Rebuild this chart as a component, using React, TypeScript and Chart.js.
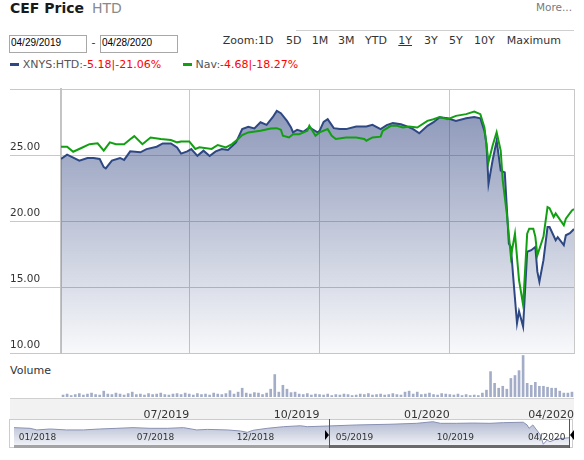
import React, { useEffect, useRef } from 'react';
import { Chart, registerables } from 'chart.js';

Chart.register(...registerables);

const FONT = "'DejaVu Sans', Verdana, sans-serif";

// Main chart: trading-day index (0 = 04/29/2019, 252 = 04/28/2020)
const priceDays = [0, 3, 5, 9, 13, 16, 19, 21, 22, 25, 29, 31, 34, 39, 42, 47, 50, 54, 57, 59, 62, 64, 67, 70, 73, 76, 79, 82, 86, 89, 92, 95, 98, 101, 104, 106, 108, 111, 113, 114, 116, 119, 122, 126, 127, 129, 131, 134, 137, 140, 145, 150, 153, 157, 160, 163, 167, 170, 173, 176, 180, 183, 186, 190, 194, 199, 203, 206, 208, 209, 210, 212, 214, 216, 218, 220, 221, 222, 224, 225, 227, 229, 231, 233, 234, 235, 237, 239, 240, 243, 244, 247, 248, 250, 252];
const priceClose = [24.71, 25.04, 24.89, 24.59, 24.79, 24.79, 24.71, 24.1, 24.0, 24.59, 24.79, 24.64, 25.29, 25.22, 25.46, 25.64, 25.89, 25.89, 25.59, 25.12, 25.29, 25.46, 24.95, 25.34, 24.94, 25.29, 25.46, 25.39, 25.96, 26.97, 27.15, 27.02, 27.49, 27.29, 27.87, 28.35, 28.17, 27.59, 27.09, 26.72, 26.92, 26.77, 27.09, 26.72, 26.84, 27.52, 27.72, 27.04, 26.97, 26.97, 27.17, 27.17, 27.29, 26.97, 27.27, 27.42, 27.33, 27.17, 26.97, 26.65, 27.22, 27.49, 27.87, 27.79, 27.59, 27.79, 27.89, 27.79, 26.84, 25.84, 22.83, 24.6, 26.1, 23.83, 23.7, 18.32, 18.07, 16.06, 12.3, 13.2, 12.05, 17.7, 17.82, 18.07, 16.2, 15.44, 17.07, 19.57, 19.57, 18.57, 18.8, 18.2, 18.95, 19.1, 19.42];

const navDays = [0, 3, 6, 10, 14, 18, 21, 24, 27, 31, 34, 36, 40, 44, 49, 54, 57, 59, 63, 66, 68, 74, 77, 81, 84, 87, 89, 92, 98, 103, 106, 108, 109, 112, 114, 117, 121, 122, 125, 127, 131, 133, 135, 140, 145, 149, 150, 153, 157, 158, 162, 165, 168, 171, 175, 180, 183, 186, 190, 194, 199, 203, 206, 208, 210, 212, 214, 216, 217, 219, 221, 223, 225, 227, 229, 230, 232, 233, 234, 237, 239, 240, 242, 243, 247, 248, 251, 252];
const navValue = [25.64, 25.64, 25.26, 25.54, 25.83, 25.9, 25.34, 25.97, 25.83, 25.83, 26.2, 26.44, 25.83, 26.34, 26.22, 26.14, 25.97, 26.04, 26.04, 25.47, 25.59, 25.47, 25.77, 25.59, 25.84, 26.22, 26.52, 26.72, 26.84, 27.02, 27.04, 26.92, 26.47, 26.34, 26.59, 26.59, 26.84, 27.22, 26.47, 26.72, 26.97, 26.47, 26.22, 26.34, 26.34, 26.22, 26.09, 26.34, 26.4, 26.84, 27.22, 27.22, 27.09, 27.17, 27.09, 27.59, 27.72, 27.89, 27.72, 27.97, 28.1, 28.3, 28.1, 27.1, 24.47, 25.71, 26.73, 25.34, 23.08, 20.58, 17.34, 19.07, 15.56, 13.68, 19.07, 19.45, 19.45, 18.85, 17.44, 18.85, 21.08, 21.0, 20.33, 20.6, 19.7, 20.2, 20.83, 20.93];

// Volume (thousands of shares), one bar per two trading days
const volume = [80, 120, 60, 100, 140, 80, 120, 160, 100, 80, 240, 120, 100, 160, 120, 80, 140, 200, 100, 120, 80, 140, 100, 120, 160, 100, 80, 120, 140, 100, 160, 120, 80, 140, 100, 120, 80, 160, 120, 100, 140, 260, 120, 200, 360, 160, 120, 180, 160, 100, 160, 320, 920, 200, 480, 320, 180, 200, 120, 100, 140, 80, 120, 100, 80, 120, 60, 100, 80, 120, 100, 60, 80, 120, 100, 140, 80, 100, 120, 80, 100, 140, 100, 80, 200, 240, 120, 200, 100, 120, 160, 100, 80, 140, 120, 100, 80, 120, 60, 100, 60, 80, 60, 160, 280, 1040, 560, 360, 440, 320, 760, 880, 1080, 1700, 560, 480, 600, 440, 440, 400, 360, 360, 240, 160, 160, 200];

const yTicks = [10, 15, 20, 25, 30];
const yTickLabels = ['10.00', '15.00', '20.00', '25.00', ''];
const xTickDays = [63, 127, 191, 252];
const xTickLabels = ['07/2019', '10/2019', '01/2020', '04/2020'];

// Navigator (days relative to 04/29/2019)
const navigatorDays = [-331, -314, -307, -293, -276, -258, -241, -223, -206, -188, -170, -153, -139, -128, -107, -93, -86, -80, -65, -48, -30, -23, -2, 29, 64, 92, 109, 117, 134, 151, 169, 183, 204, 208, 210, 214, 218, 222, 225, 229, 232, 239, 246, 252];
const navigatorClose = [23.6, 23.1, 21.9, 22.6, 21.9, 21.9, 22.6, 23.1, 23.6, 23.1, 23.1, 23.6, 21.9, 22.3, 21.9, 21.1, 20.1, 21.6, 23.1, 24.3, 25.0, 24.3, 24.8, 25.6, 26.1, 26.8, 28.0, 26.8, 26.8, 27.0, 26.8, 27.3, 27.6, 25.6, 23.1, 25.6, 21.9, 18.1, 11.3, 14.4, 13.2, 15.2, 15.7, 16.1];
const navTickDays = [-326, -202, -97, 7, 113, 209];
const navTickLabels = ['01/2018', '07/2018', '12/2018', '05/2019', '10/2019', '04/2020'];

const BLUE = '#2e4883';
const GREEN = '#12a012';
const GRID = '#c8c8c8';

function grad(c: any, top: string, bottom: string) {
  const chart = c.chart;
  const area = chart.chartArea;
  if (!area) return top;
  const g = chart.ctx.createLinearGradient(0, area.top, 0, area.bottom);
  g.addColorStop(0, top);
  g.addColorStop(1, bottom);
  return g;
}

export default function App() {
  const priceRef = useRef<HTMLCanvasElement>(null);
  const volRef = useRef<HTMLCanvasElement>(null);
  const navRef = useRef<HTMLCanvasElement>(null);

  useEffect(() => {
    const charts: Chart[] = [];
    if (priceRef.current) {
      charts.push(new Chart(priceRef.current, {
        type: 'line',
        data: {
          datasets: [
            {
              label: 'Nav',
              data: navDays.map((d, i) => ({ x: d, y: navValue[i] })),
              borderColor: GREEN,
              borderWidth: 2,
              pointRadius: 0,
              tension: 0,
              fill: false,
              order: 0,
            },
            {
              label: 'XNYS:HTD',
              data: priceDays.map((d, i) => ({ x: d, y: priceClose[i] })),
              borderColor: BLUE,
              borderWidth: 2,
              pointRadius: 0,
              tension: 0,
              fill: 'start',
              backgroundColor: (c: any) => grad(c, 'rgba(50,70,130,0.6)', 'rgba(50,70,130,0.03)'),
              order: 1,
            },
          ],
        },
        options: {
          animation: false,
          responsive: false,
          layout: { padding: { left: 10, right: 10, top: 9, bottom: 6 } },
          plugins: { legend: { display: false }, tooltip: { enabled: false } },
          scales: {
            x: {
              type: 'linear',
              min: 0,
              max: 252,
              afterBuildTicks: (s: any) => { s.ticks = xTickDays.map((v) => ({ value: v })); },
              afterFit: (s: any) => { s.height = 0; },
              ticks: { display: false },
              grid: { color: GRID, drawTicks: false },
              border: { display: false },
            },
            y: {
              type: 'linear',
              min: 10,
              max: 30,
              afterBuildTicks: (s: any) => { s.ticks = yTicks.map((v) => ({ value: v })); },
              afterFit: (s: any) => { s.width = 51; },
              ticks: {
                crossAlign: 'far',
                labelOffset: -8,
                padding: 0,
                color: '#333',
                font: { family: FONT, size: 10.5 },
                callback: (_v: any, i: number) => yTickLabels[i],
              },
              grid: { color: GRID, tickLength: 51, drawTicks: true, tickColor: GRID },
              border: { display: true, color: '#c4c4c4', width: 2 },
            },
          },
        },
      } as any));
    }
    if (volRef.current) {
      charts.push(new Chart(volRef.current, {
        type: 'bar',
        data: {
          datasets: [{
            label: 'Volume',
            data: volume.map((v, i) => ({ x: 2 * i + 1, y: v })),
            backgroundColor: '#a3adc8',
            borderWidth: 0,
            barThickness: 2,
          }],
        },
        options: {
          animation: false,
          responsive: false,
          layout: { padding: { left: 61, right: 10, top: 5, bottom: 0 } },
          plugins: { legend: { display: false }, tooltip: { enabled: false } },
          scales: {
            x: {
              type: 'linear',
              min: 0,
              max: 252,
              offset: false,
              afterBuildTicks: (s: any) => { s.ticks = xTickDays.map((v) => ({ value: v })); },
              afterFit: (s: any) => { s.height = 23; },
              grid: { display: false },
              border: { display: false },
              ticks: {
                align: 'end',
                padding: 4,
                autoSkip: false,
                maxRotation: 0,
                color: '#333',
                font: { family: FONT, size: 11 },
                callback: (_v: any, i: number) => xTickLabels[i],
              },
            },
            y: { display: false, min: 0, max: 1720 },
          },
        },
      } as any));
    }
    if (navRef.current) {
      charts.push(new Chart(navRef.current, {
        type: 'line',
        data: {
          datasets: [{
            label: 'Navigator',
            data: navigatorDays.map((d, i) => ({ x: d, y: navigatorClose[i] })),
            borderColor: '#8891b3',
            borderWidth: 1,
            pointRadius: 0,
            tension: 0,
            fill: 'start',
            backgroundColor: (c: any) => grad(c, 'rgba(90,105,155,0.5)', 'rgba(90,105,155,0.08)'),
          }],
        },
        options: {
          animation: false,
          responsive: false,
          layout: { padding: { left: 14, right: 15, top: 4, bottom: 0 } },
          plugins: { legend: { display: false }, tooltip: { enabled: false } },
          scales: {
            x: {
              type: 'linear',
              min: -331,
              max: 252,
              afterBuildTicks: (s: any) => { s.ticks = navTickDays.map((v) => ({ value: v })); },
              afterFit: (s: any) => { s.height = 9; },
              grid: { display: false },
              border: { display: false },
              ticks: {
                align: 'start',
                mirror: true,
                padding: 3,
                z: 1,
                autoSkip: false,
                maxRotation: 0,
                color: '#333',
                font: { family: FONT, size: 9 },
                callback: (_v: any, i: number) => navTickLabels[i],
              },
            },
            y: { display: false, min: 10, max: 30 },
          },
        },
      } as any));
    }
    return () => { charts.forEach((c) => c.destroy()); };
  }, []);

  const abs = (l: number, t: number, extra: any = {}): any => ({ position: 'absolute', left: l, top: t, whiteSpace: 'nowrap', ...extra });
  const zoomItems: [string, number][] = [['Zoom:1D', 222.7], ['5D', 286], ['1M', 311.7], ['3M', 338], ['YTD', 365], ['1Y', 398.3], ['3Y', 424], ['5Y', 449], ['10Y', 474], ['Maximum', 506.7]];

  return (
    <div style={{ position: 'absolute', left: 0, top: 0, width: 584, height: 460, overflow: 'hidden', background: '#fff', fontFamily: FONT, color: '#333' }}>
      <div style={abs(10, 1, { fontSize: 14, lineHeight: '14px', fontWeight: 'bold', color: '#1a1a1a' })}>CEF Price</div>
      <div style={abs(92, 1, { fontSize: 14, lineHeight: '14px', color: '#8a8a8a' })}>HTD</div>
      <div style={abs(536, 1.5, { fontSize: 10.5, lineHeight: '10.5px', color: '#7a7a7a' })}>More...</div>
      <div style={abs(296, 30, { width: 278, height: 1, background: '#cfcfcf' })} />

      <div style={abs(9, 35, { width: 76, height: 16, border: '1px solid #a8a8a8' })} />
      <div style={abs(11, 38.4, { fontFamily: "'Liberation Sans', Arial, sans-serif", fontSize: 10, lineHeight: '10px', color: '#000' })}>04/29/2019</div>
      <div style={abs(91.5, 36.7, { fontSize: 11, lineHeight: '11px', color: '#333' })}>-</div>
      <div style={abs(100, 35, { width: 76, height: 16, border: '1px solid #a8a8a8' })} />
      <div style={abs(102, 38.4, { fontFamily: "'Liberation Sans', Arial, sans-serif", fontSize: 10, lineHeight: '10px', color: '#000' })}>04/28/2020</div>

      {zoomItems.map(([t, l]) => (
        <div key={t} style={abs(l, 35.4, { fontSize: 11, lineHeight: '11px', color: '#333', textDecoration: t === '1Y' ? 'underline' : 'none' })}>{t}</div>
      ))}

      <div style={abs(10, 63, { width: 9, height: 3, background: BLUE })} />
      <div style={abs(22.7, 59.2, { fontSize: 11, lineHeight: '11px', color: '#555' })}>XNYS:HTD:<span style={{ color: '#ff0000' }}>-5.18|-21.06%</span></div>
      <div style={abs(183, 63, { width: 9, height: 3, background: GREEN })} />
      <div style={abs(195.5, 59.2, { fontSize: 11, lineHeight: '11px', color: '#555' })}>Nav:<span style={{ color: '#ff0000' }}>-4.68|-18.27%</span></div>

      <canvas ref={priceRef} width={584} height={280} style={abs(0, 80, { width: 584, height: 280 })} />

      <div style={abs(10, 365.2, { fontSize: 11, lineHeight: '11px', color: '#333' })}>Volume</div>
      <div style={abs(10, 398, { width: 564, height: 21, background: '#f2f2f2', borderTop: '1px solid #d0d0d0', boxSizing: 'border-box' })} />
      <canvas ref={volRef} width={584} height={70} style={abs(0, 350, { width: 584, height: 70 })} />

      <div style={abs(9, 419, { width: 564, height: 29, border: '1px solid #cccccc', boxSizing: 'border-box' })} />
      <canvas ref={navRef} width={584} height={40} style={abs(0, 415, { width: 584, height: 40 })} />
      <div style={abs(14, 445, { width: 315, height: 3, background: '#a3a3a3' })} />
      <div style={abs(329, 445, { width: 241, height: 3, background: '#6a6a6a' })} />
      <div style={abs(329, 419, { width: 1, height: 29, background: '#555' })} />
      <div style={abs(569, 419, { width: 1, height: 29, background: '#555' })} />
      <div style={abs(325, 430, { width: 0, height: 0, borderTop: '5px solid transparent', borderBottom: '5px solid transparent', borderLeft: '4px solid #000' })} />
      <div style={abs(570, 430, { width: 0, height: 0, borderTop: '5px solid transparent', borderBottom: '5px solid transparent', borderRight: '4px solid #000' })} />
    </div>
  );
}
